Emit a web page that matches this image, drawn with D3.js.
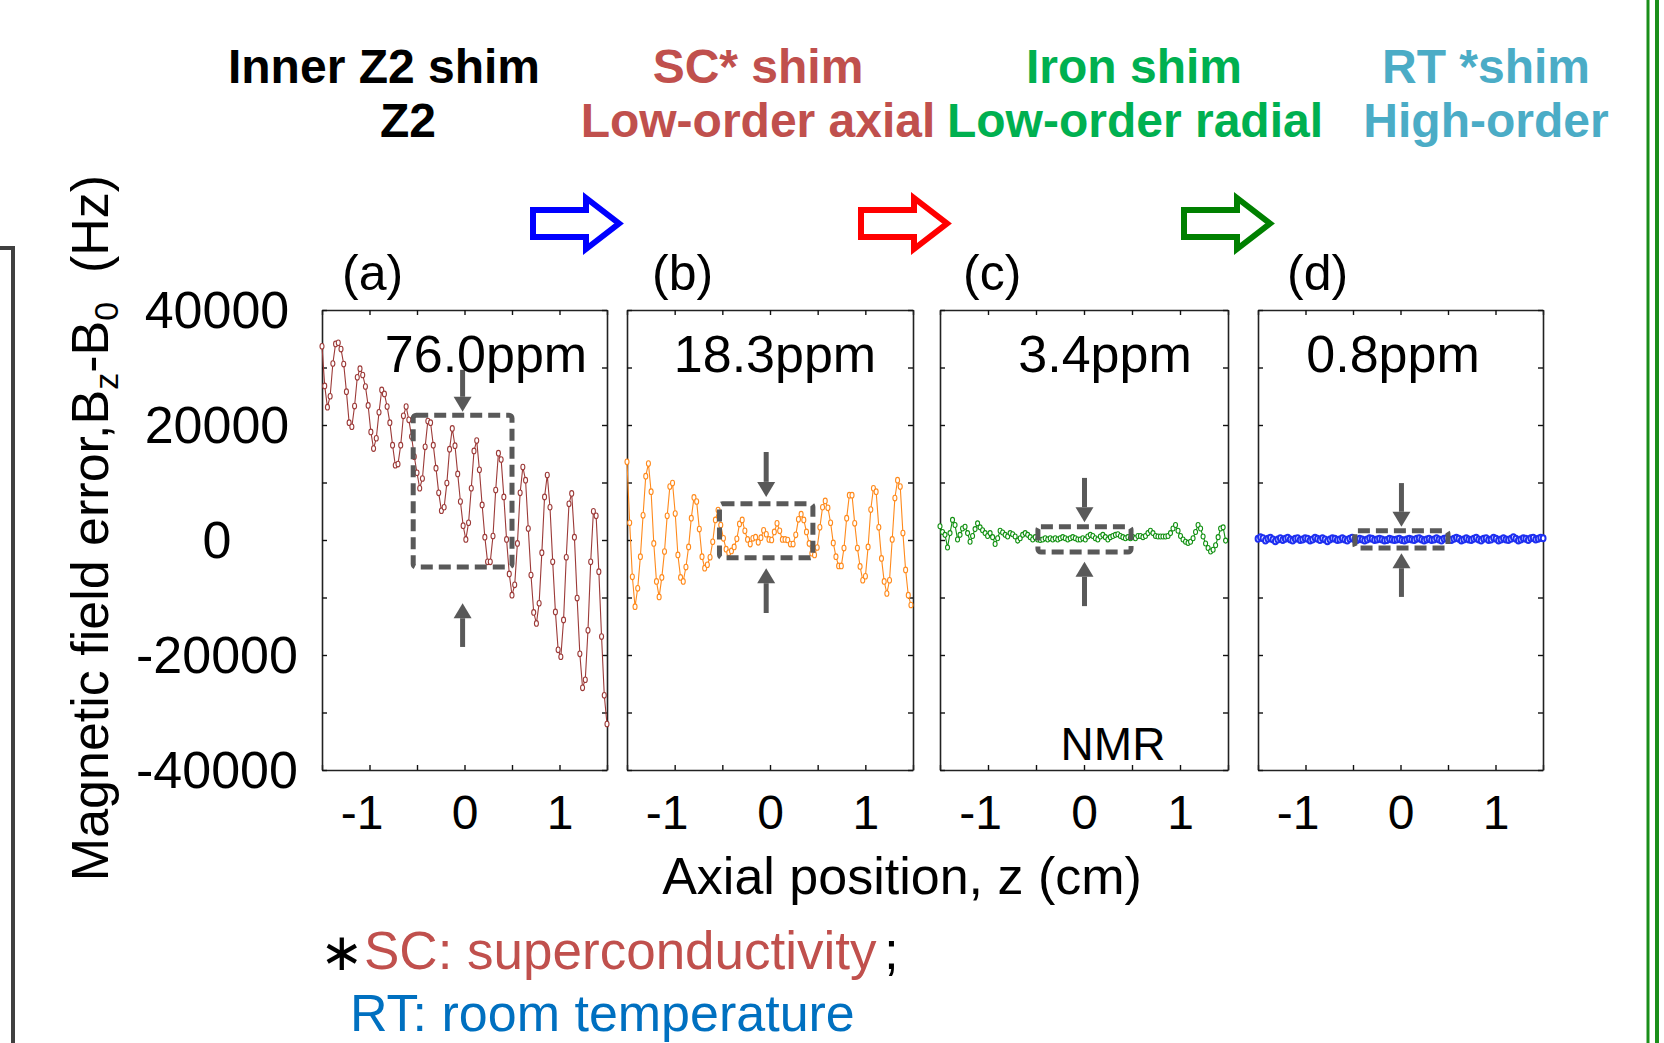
<!DOCTYPE html>
<html>
<head>
<meta charset="utf-8">
<script src="https://cdn.jsdelivr.net/npm/d3@7"></script>
<style>
  body { margin: 0; background: #fff; }
  svg { display: block; }
  text { font-family: "Liberation Sans", Arial, sans-serif; }
</style>
</head>
<body>
<div id="chart"></div>
<script>
// field error Bz-B0 (Hz) along z after each shim step
var panelNames = ["(a)", "(b)", "(c)", "(d)"];
var ppmLabels = ["76.0ppm", "18.3ppm", "3.4ppm", "0.8ppm"];
var zStart = -1.5;
var zSteps = [0.02857, 0.0281, 0.0261, 0.0261];

var fieldA = [33700, 26800, 23100, 25000, 30700, 34100, 34300, 33200, 30600, 25800,
  20400, 19700, 23300, 28300, 29800, 28700, 26700, 23400, 18800, 15900,
  17700, 22200, 26100, 25400, 23200, 20400, 16500, 13000, 13200, 16500,
  21600, 23200, 20900, 18000, 14500, 11700, 9000, 10700, 16200, 20700,
  20400, 16500, 12500, 8200, 5100, 5700, 9900, 15800, 19400, 16400,
  11500, 6700, 2500, 100, 3000, 9000, 15500, 17300, 12200, 6100,
  500, -3800, -3800, 700, 8700, 15100, 14000, 7500, 100, -5900,
  -9600, -7800, -600, 8200, 12700, 10400, 2000, -6100, -12600, -14500,
  -11000, -2200, 7500, 11300, 5700, -3800, -12500, -19100, -20300, -13900,
  -3000, 6300, 8100, 500, -10100, -19800, -25700, -24300, -15700, -3800,
  5000, 4200, -5500, -16800, -27000, -32000];

var fieldB = [13600, 3000, -6400, -11600, -8400, -2900, 4300, 11100, 13300, 8400,
  -600, -7200, -9900, -6500, -2000, 4200, 9300, 9900, 4600, -2600,
  -6500, -7200, -4700, -1200, 3800, 7400, 6700, 1900, -2900, -4900,
  -4300, -3000, -300, 3500, 5200, 2600, 300, -1600, -2200, -1900,
  -1200, 200, 2800, 3500, 1600, 100, -700, 300, 500, -400,
  400, 1700, 1000, 100, 0, 1400, 2900, 1600, 100, 100,
  0, -700, -700, 900, 3600, 4500, 3500, 1400, -600, -2300,
  -2600, -1300, 2200, 5700, 6800, 5600, 3000, -500, -2900, -4500,
  -4500, -1400, 3800, 7800, 7800, 2900, -1400, -4600, -7000, -6300,
  -1200, 5300, 9000, 8400, 2200, -3200, -7200, -9300, -7000, 100,
  7300, 10400, 9300, 1200, -5200, -9600, -11300];

var fieldC = [2400, 1400, 900, -1300, 1200, 3500, 2600, 100, 900, 2000,
  2300, 1200, -300, 700, 1900, 2900, 2200, 1700, 1200, 700,
  1200, 500, -700, 300, 1600, 1300, 900, 600, 1200, 1000,
  600, -100, 300, 900, 1200, 900, 500, 100, 500, 100,
  0, 100, 300, 100, 300, 100, 300, 100, 300, 500,
  300, 100, 300, 500, 300, 100, 100, 300, 100, 600,
  900, 700, 300, 100, 600, 900, 500, 100, 500, 700,
  900, 1000, 700, 500, 300, 500, 300, 500, 300, 700,
  700, 500, 700, 1200, 1600, 1200, 700, 600, 600, 600,
  600, 700, 1200, 2000, 2600, 1600, 700, 100, -300, -500,
  -300, 300, 1400, 2600, 2000, 600, -600, -1400, -2000, -1700,
  -900, 500, 2000, 2200, -100];

var fieldD = [200, 500, 300, -100, 200, 400, 100, -200, 100, 300,
  0, 200, 400, 100, -100, 200, 300, 0, 100, 300,
  200, -100, 100, 400, 200, 0, 300, 100, -200, 100,
  300, 200, 0, 100, 300, 100, -100, 200, 400, 100,
  0, 200, 100, -100, 100, 300, 200, 0, 100, 200,
  100, -100, 0, 200, 100, 0, 100, 200, 0, -100,
  100, 200, 100, 0, 200, 300, 100, -100, 100, 200,
  0, 100, 300, 100, -100, 200, 300, 100, 0, 200,
  400, 200, -100, 100, 300, 100, 0, 200, 400, 100,
  -100, 200, 300, 0, 100, 400, 200, -100, 100, 300,
  100, 0, 200, 500, 200, -100, 100, 300, 200, 0,
  300, 400, 100, 200, 400, 300];

var yTickLabels = [40000, 20000, 0, -20000, -40000];
var xTickLabels = [-1, 0, 1];

// dashed "zoom" boxes, in data units
var boxZ0 = [-0.54, -0.53, -0.48, -0.48];
var boxZ1 = [0.5, 0.45, 0.49, 0.5];
var boxTop = [21700, 6300, 2300, 1600];
var boxBottom = [-4700, -3100, -2100, -1400];
// grey arrows: tail/tip of the down arrow and tip/tail of the up arrow
var downTail = [29600, 15300, 10800, 9900];
var downTip = [22300, 7500, 3100, 2300];
var upTip = [-11000, -4900, -3800, -2300];
var upTail = [-18600, -12700, -11500, -9900];

var seriesColors = ["#9c3a38", "#ff8a1c", "#119011", "#1e2ff0"];

var width = 1664, height = 1043;
var plotTop = 310, plotBottom = 770;
var panelX = [[322, 607], [627, 913], [940, 1228], [1258, 1543]];

var svg = d3.select("#chart").append("svg")
  .attr("width", width)
  .attr("height", height);

svg.append("rect").attr("width", width).attr("height", height).attr("fill", "#fff");

var y = d3.scaleLinear().domain([-40000, 40000]).range([plotBottom, plotTop]);
var allFields = [fieldA, fieldB, fieldC, fieldD];

allFields.forEach(function(field, p) {
  var x = d3.scaleLinear().domain([-1.5, 1.5]).range(panelX[p]);
  var g = svg.append("g");

  var pts = field.map(function(v, i) { return {z: zStart + i * zSteps[p], v: v}; });

  // frame + inward ticks on all four sides
  var minor = d3.range(-1.5, 1.51, 0.5);
  var yt = d3.range(-40000, 40001, 10000);
  g.append("g").attr("transform", "translate(0," + plotBottom + ")")
    .call(d3.axisBottom(x).tickValues(minor).tickSize(-5).tickSizeOuter(0).tickFormat(""));
  g.append("g").attr("transform", "translate(0," + plotTop + ")")
    .call(d3.axisTop(x).tickValues(minor).tickSize(-5).tickSizeOuter(0).tickFormat(""));
  g.append("g").attr("transform", "translate(" + panelX[p][0] + ",0)")
    .call(d3.axisLeft(y).tickValues(yt).tickSize(-5).tickSizeOuter(0).tickFormat(""));
  g.append("g").attr("transform", "translate(" + panelX[p][1] + ",0)")
    .call(d3.axisRight(y).tickValues(yt).tickSize(-5).tickSizeOuter(0).tickFormat(""));
  g.selectAll(".domain").attr("stroke", "#222").attr("stroke-width", 1.6);
  g.selectAll(".tick line").attr("stroke", "#111").attr("stroke-width", 1.4);

  // x tick labels
  var lab = g.append("g").attr("transform", "translate(0," + plotBottom + ")")
    .call(d3.axisBottom(x).tickValues(xTickLabels).tickSize(0).tickPadding(25)
      .tickFormat(function(d) { return String(d); }));
  lab.select(".domain").remove();
  lab.selectAll("text").attr("font-size", 48).attr("fill", "#000")
    .attr("font-family", "'Liberation Sans', Arial, sans-serif")
    .attr("dx", function(d) { return d < 0 ? -8 : 0; });

  // series
  var line = d3.line().x(function(d) { return x(d.z); }).y(function(d) { return y(d.v); });
  g.append("path").datum(pts)
    .attr("d", line)
    .attr("fill", "none")
    .attr("stroke", seriesColors[p])
    .attr("stroke-width", p === 3 ? 3 : 1.1);
  g.selectAll("ellipse.pt").data(pts).enter().append("ellipse")
    .attr("cx", function(d) { return x(d.z); })
    .attr("cy", function(d) { return y(d.v); })
    .attr("rx", p === 3 ? 2.4 : 2)
    .attr("ry", p === 3 ? 3 : (p === 2 ? 2.5 : 2.8))
    .attr("fill", "#fff")
    .attr("stroke", seriesColors[p])
    .attr("stroke-width", p === 3 ? 2 : 1.1);

  // dashed zoom box
  g.append("rect")
    .attr("x", x(boxZ0[p]))
    .attr("y", y(boxTop[p]))
    .attr("width", x(boxZ1[p]) - x(boxZ0[p]))
    .attr("height", y(boxBottom[p]) - y(boxTop[p]))
    .attr("rx", 3)
    .attr("fill", "none")
    .attr("stroke", "#595959")
    .attr("stroke-width", 5)
    .attr("stroke-dasharray", "12,6");

  // grey arrows
  var ax = x((boxZ0[p] + boxZ1[p]) / 2);
  function greyArrow(yTail, yTip) {
    var dir = yTip > yTail ? 1 : -1;
    var headBase = yTip - dir * 15;
    g.append("line").attr("x1", ax).attr("x2", ax).attr("y1", yTail).attr("y2", headBase)
      .attr("stroke", "#595959").attr("stroke-width", 5);
    g.append("path")
      .attr("d", "M" + (ax - 9) + "," + headBase + "L" + (ax + 9) + "," + headBase + "L" + ax + "," + yTip + "Z")
      .attr("fill", "#595959");
  }
  greyArrow(y(downTail[p]), y(downTip[p]));
  greyArrow(y(upTail[p]), y(upTip[p]));

  // texts inside / above panel
  var ppmX = [486, 775, 1105, 1393];
  g.append("text").attr("x", ppmX[p]).attr("y", 372)
    .attr("text-anchor", "middle").attr("font-size", 52).text(ppmLabels[p]);
  var nameX = [342, 652, 963, 1287];
  g.append("text").attr("x", nameX[p]).attr("y", 290)
    .attr("font-size", 50).text(panelNames[p]);
});

svg.append("text").attr("x", 1113).attr("y", 760).attr("text-anchor", "middle")
  .attr("font-size", 46).text("NMR");

// y tick labels
yTickLabels.forEach(function(v) {
  svg.append("text").attr("x", 217).attr("y", y(v) + 18)
    .attr("text-anchor", "middle").attr("font-size", 52).text(String(v));
});

// axis titles
var yTitle = svg.append("text")
  .attr("transform", "translate(108,528) rotate(-90)")
  .attr("text-anchor", "middle")
  .attr("font-size", 52);
yTitle.append("tspan").text("Magnetic field error,B");
yTitle.append("tspan").attr("font-size", 34).attr("dy", 10).text("z");
yTitle.append("tspan").attr("dy", -10).text("-B");
yTitle.append("tspan").attr("font-size", 34).attr("dy", 10).text("0");
yTitle.append("tspan").attr("dy", -10).text("\u00a0\u00a0(Hz)");

svg.append("text").attr("x", 902).attr("y", 894).attr("text-anchor", "middle")
  .attr("font-size", 52).text("Axial position, z (cm)");

// shim step headings
var headTop = ["Inner Z2 shim", "SC* shim", "Iron shim", "RT *shim"];
var headBottom = ["Z2", "Low-order axial", "Low-order radial", "High-order"];
var headColors = ["#000000", "#c0504d", "#00b050", "#4bacc6"];
var headTopX = [384, 758, 1134, 1486];
var headBottomX = [408, 758, 1135, 1486];
headTop.forEach(function(t, i) {
  svg.append("text").attr("x", headTopX[i]).attr("y", 83).attr("text-anchor", "middle")
    .attr("font-size", 48).attr("font-weight", "bold").attr("fill", headColors[i]).text(t);
  svg.append("text").attr("x", headBottomX[i]).attr("y", 137).attr("text-anchor", "middle")
    .attr("font-size", 48).attr("font-weight", "bold").attr("fill", headColors[i]).text(headBottom[i]);
});

// outlined block arrows between steps
var arrowLeft = [530, 858, 1181];
var arrowColors = ["#0000ff", "#ff0000", "#008000"];
arrowLeft.forEach(function(a, i) {
  var b = a + 56, c = a + 92;
  var pts = [[a + 3, 210], [b, 210], [b, 198], [c - 3, 223.5], [b, 249], [b, 237], [a + 3, 237]];
  svg.append("polygon")
    .attr("points", pts.map(function(q) { return q.join(","); }).join(" "))
    .attr("fill", "#fff")
    .attr("stroke", arrowColors[i])
    .attr("stroke-width", 6);
});

// footnote
svg.append("text").attr("x", 320).attr("y", 970).attr("font-size", 52)
  .attr("font-family", "'DejaVu Sans', sans-serif").text("\u2217");
svg.append("text").attr("x", 364).attr("y", 969).attr("font-size", 53)
  .attr("fill", "#c0504d").text("SC: superconductivity");
svg.append("text").attr("x", 884).attr("y", 969).attr("font-size", 53).text(";");
svg.append("text").attr("x", 350).attr("y", 1031).attr("font-size", 52)
  .attr("fill", "#0070c0").text("RT: room temperature");

// frame remnants at the edges
svg.append("path").attr("d", "M0,248H13V1043")
  .attr("fill", "none").attr("stroke", "#404040").attr("stroke-width", 4);
svg.append("line").attr("x1", 1648).attr("x2", 1648).attr("y1", 0).attr("y2", height)
  .attr("stroke", "#1a8f1a").attr("stroke-width", 3);
svg.append("line").attr("x1", 1657).attr("x2", 1657).attr("y1", 0).attr("y2", height)
  .attr("stroke", "#1a8f1a").attr("stroke-width", 4);
</script>
</body>
</html>
